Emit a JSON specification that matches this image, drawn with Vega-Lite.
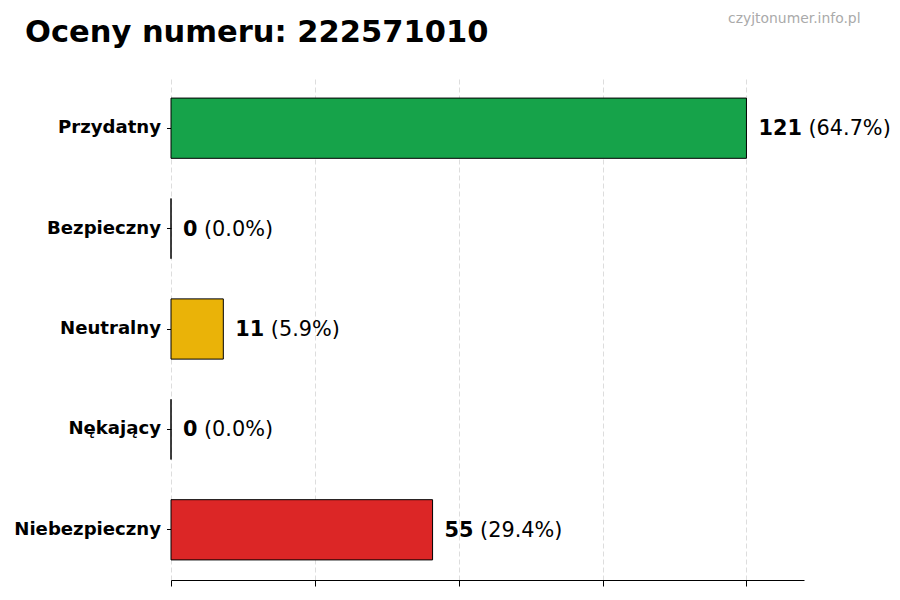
{
  "$schema": "https://vega.github.io/schema/vega-lite/v6.json",
  "width": 633,
  "height": 502,
  "autosize": {"type": "none"},
  "padding": {"left": 171, "top": 78, "right": 96, "bottom": 20},
  "background": "white",
  "title": {
    "text": "Oceny numeru: 222571010",
    "anchor": "start",
    "frame": "group",
    "font": "DejaVu Sans",
    "fontSize": 30.5,
    "fontWeight": "bold",
    "color": "black",
    "dx": -146,
    "offset": -61,
    "baseline": "alphabetic"
  },
  "data": {
    "values": [
      {"category": "Przydatny", "count": 121, "pct": 64.7},
      {"category": "Bezpieczny", "count": 0, "pct": 0.0},
      {"category": "Neutralny", "count": 11, "pct": 5.9},
      {"category": "Nękający", "count": 0, "pct": 0.0},
      {"category": "Niebezpieczny", "count": 55, "pct": 29.4}
    ]
  },
  "transform": [
    {"calculate": "'(' + format(datum.pct, '.1f') + '%)'", "as": "pctLabel"}
  ],
  "encoding": {
    "y": {
      "field": "category",
      "type": "nominal",
      "sort": null,
      "scale": {"paddingInner": 0.4, "paddingOuter": 0.2},
      "axis": {
        "domain": false,
        "ticks": true,
        "tickSize": 4.5,
        "tickColor": "black",
        "labelFont": "DejaVu Sans",
        "labelFontWeight": "bold",
        "labelFontSize": 18.1,
        "labelColor": "black",
        "labelPadding": 6,
        "title": "czyjtonumer.info.pl",
        "titleAngle": 0,
        "titleAlign": "right",
        "titleBaseline": "alphabetic",
        "titleX": 689,
        "titleY": -56,
        "titleFont": "DejaVu Sans",
        "titleFontSize": 13.9,
        "titleFontWeight": "normal",
        "titleColor": "#aaaaaa"
      }
    },
    "x": {
      "field": "count",
      "type": "quantitative",
      "scale": {"domain": [0, 133.1], "nice": false, "zero": true},
      "axis": {
        "values": [0, 30.25, 60.5, 90.75, 121],
        "labels": false,
        "ticks": true,
        "tickSize": 6,
        "tickColor": "black",
        "domain": true,
        "domainColor": "black",
        "domainWidth": 1,
        "grid": true,
        "gridDash": [5, 3],
        "gridColor": "#d4d4d4",
        "gridWidth": 0.8,
        "title": null
      }
    }
  },
  "layer": [
    {
      "mark": {"type": "bar", "stroke": "black", "strokeWidth": 1},
      "encoding": {
        "color": {
          "field": "category",
          "type": "nominal",
          "legend": null,
          "scale": {
            "domain": ["Przydatny", "Bezpieczny", "Neutralny", "Nękający", "Niebezpieczny"],
            "range": ["#16a34a", "#3b82f6", "#eab308", "#f97316", "#dc2626"]
          }
        }
      }
    },
    {
      "mark": {"type": "text", "align": "left", "baseline": "middle", "dx": 12, "dy": 1, "font": "DejaVu Sans", "fontSize": 20.8, "fontWeight": "bold", "color": "black"},
      "encoding": {"text": {"field": "count", "type": "quantitative"}}
    },
    {
      "transform": [{"filter": "datum.count >= 100"}],
      "mark": {"type": "text", "align": "left", "baseline": "middle", "dx": 62, "dy": 1, "font": "DejaVu Sans", "fontSize": 20.8, "color": "black"},
      "encoding": {"text": {"field": "pctLabel", "type": "nominal"}}
    },
    {
      "transform": [{"filter": "datum.count >= 10 && datum.count < 100"}],
      "mark": {"type": "text", "align": "left", "baseline": "middle", "dx": 47.5, "dy": 1, "font": "DejaVu Sans", "fontSize": 20.8, "color": "black"},
      "encoding": {"text": {"field": "pctLabel", "type": "nominal"}}
    },
    {
      "transform": [{"filter": "datum.count < 10"}],
      "mark": {"type": "text", "align": "left", "baseline": "middle", "dx": 33, "dy": 1, "font": "DejaVu Sans", "fontSize": 20.8, "color": "black"},
      "encoding": {"text": {"field": "pctLabel", "type": "nominal"}}
    }
  ],
  "config": {"view": {"stroke": null}}
}
